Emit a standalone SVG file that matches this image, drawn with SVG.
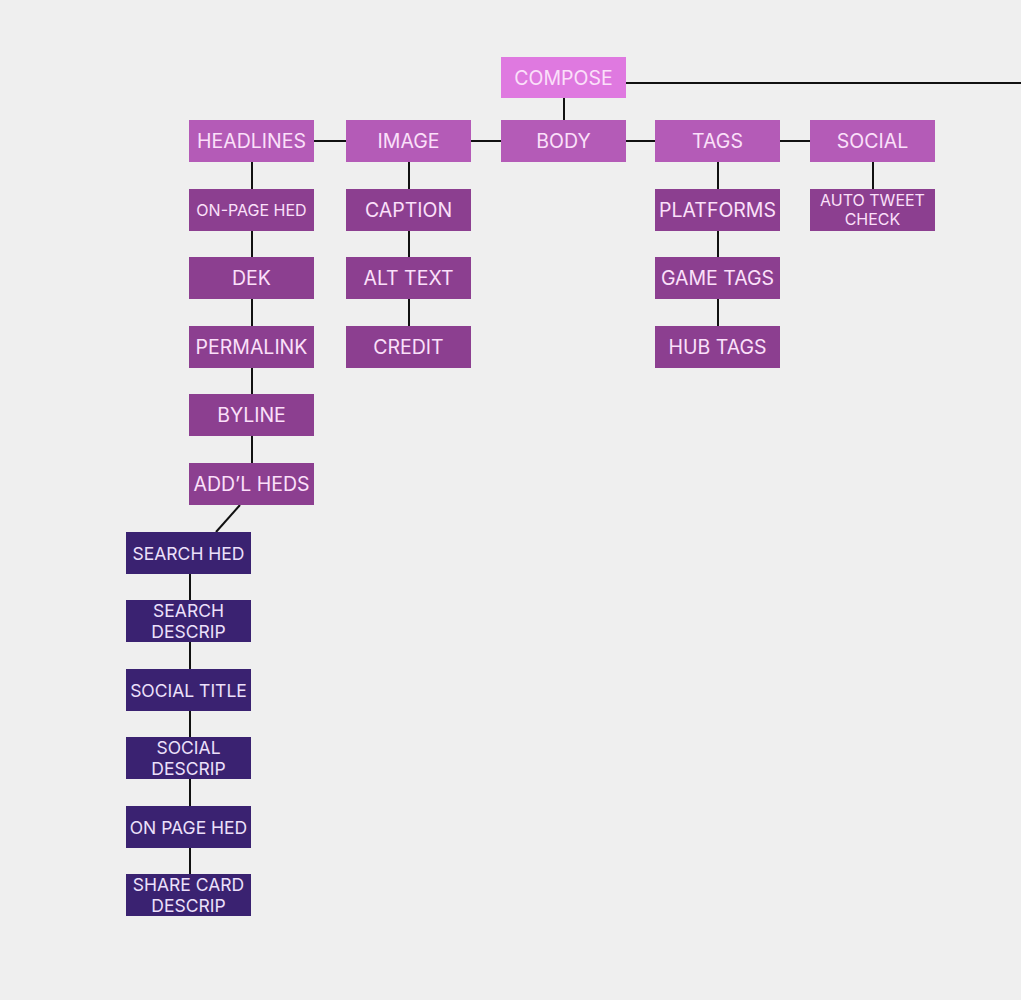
<svg xmlns="http://www.w3.org/2000/svg" width="1021" height="1000" viewBox="0 0 1021 1000">
<style>
text{font-family:Inter,"Liberation Sans",sans-serif;text-anchor:middle;dominant-baseline:central}
.c0 rect{fill:#df79e0}.c0 text{fill:#fbe0fa;font-size:19.5px}
.c1 rect{fill:#b45bb7}.c1 text{fill:#fbe0fa;font-size:19.5px}
.c2 rect{fill:#8c3f90}.c2 text{fill:#fbe0fa;font-size:19.5px}
.c2 text.s{font-size:16px}
.c3 rect{fill:#3a2271}.c3 text{fill:#ece0fb;font-size:17.5px}
#connectors line{stroke:#111;stroke-width:2;fill:none}
</style>
<rect width="1021" height="1000" fill="#efefef"/>
<g id="connectors">
<line x1="626" y1="83" x2="1021" y2="83"/>
<line x1="564" y1="98" x2="564" y2="120"/>
<line x1="314" y1="141" x2="346" y2="141"/>
<line x1="471" y1="141" x2="501" y2="141"/>
<line x1="626" y1="141" x2="655" y2="141"/>
<line x1="780" y1="141" x2="810" y2="141"/>
<line x1="252" y1="162" x2="252" y2="463"/>
<line x1="409" y1="162" x2="409" y2="326"/>
<line x1="718" y1="162" x2="718" y2="326"/>
<line x1="873" y1="162" x2="873" y2="189"/>
<line x1="240" y1="505" x2="216" y2="532"/>
<line x1="190" y1="574" x2="190" y2="874"/>
</g>
<g id="compose" class="c0"><rect x="501" y="57" width="125" height="41"/><text x="563.5" y="78">COMPOSE</text></g>
<g id="headlines" class="c1"><rect x="189" y="120" width="125" height="42"/><text x="251.5" y="141">HEADLINES</text></g>
<g id="image" class="c1"><rect x="346" y="120" width="125" height="42"/><text x="408.5" y="141">IMAGE</text></g>
<g id="body" class="c1"><rect x="501" y="120" width="125" height="42"/><text x="563.5" y="141">BODY</text></g>
<g id="tags" class="c1"><rect x="655" y="120" width="125" height="42"/><text x="717.5" y="141">TAGS</text></g>
<g id="social" class="c1"><rect x="810" y="120" width="125" height="42"/><text x="872.5" y="141">SOCIAL</text></g>
<g id="on-page-hed" class="c2"><rect x="189" y="189" width="125" height="42"/><text class="s" x="251.5" y="210">ON-PAGE HED</text></g>
<g id="dek" class="c2"><rect x="189" y="257" width="125" height="42"/><text x="251.5" y="278">DEK</text></g>
<g id="permalink" class="c2"><rect x="189" y="326" width="125" height="42"/><text x="251.5" y="347">PERMALINK</text></g>
<g id="byline" class="c2"><rect x="189" y="394" width="125" height="42"/><text x="251.5" y="415">BYLINE</text></g>
<g id="addl-heds" class="c2"><rect x="189" y="463" width="125" height="42"/><text x="251.5" y="484">ADD’L HEDS</text></g>
<g id="caption" class="c2"><rect x="346" y="189" width="125" height="42"/><text x="408.5" y="210">CAPTION</text></g>
<g id="alt-text" class="c2"><rect x="346" y="257" width="125" height="42"/><text x="408.5" y="278">ALT TEXT</text></g>
<g id="credit" class="c2"><rect x="346" y="326" width="125" height="42"/><text x="408.5" y="347">CREDIT</text></g>
<g id="platforms" class="c2"><rect x="655" y="189" width="125" height="42"/><text x="717.5" y="210">PLATFORMS</text></g>
<g id="game-tags" class="c2"><rect x="655" y="257" width="125" height="42"/><text x="717.5" y="278">GAME TAGS</text></g>
<g id="hub-tags" class="c2"><rect x="655" y="326" width="125" height="42"/><text x="717.5" y="347">HUB TAGS</text></g>
<g id="auto-tweet" class="c2"><rect x="810" y="189" width="125" height="42"/><text class="s" x="872.5" y="200">AUTO TWEET</text><text class="s" x="872.5" y="219">CHECK</text></g>
<g id="search-hed" class="c3"><rect x="126" y="532" width="125" height="42"/><text x="188.5" y="553">SEARCH HED</text></g>
<g id="search-descrip" class="c3"><rect x="126" y="600" width="125" height="42"/><text x="188.5" y="610">SEARCH</text><text x="188.5" y="631">DESCRIP</text></g>
<g id="social-title" class="c3"><rect x="126" y="669" width="125" height="42"/><text x="188.5" y="690">SOCIAL TITLE</text></g>
<g id="social-descrip" class="c3"><rect x="126" y="737" width="125" height="42"/><text x="188.5" y="747">SOCIAL</text><text x="188.5" y="768">DESCRIP</text></g>
<g id="on-page-hed-2" class="c3"><rect x="126" y="806" width="125" height="42"/><text x="188.5" y="827">ON PAGE HED</text></g>
<g id="share-card" class="c3"><rect x="126" y="874" width="125" height="42"/><text x="188.5" y="884">SHARE CARD</text><text x="188.5" y="905">DESCRIP</text></g>
</svg>
